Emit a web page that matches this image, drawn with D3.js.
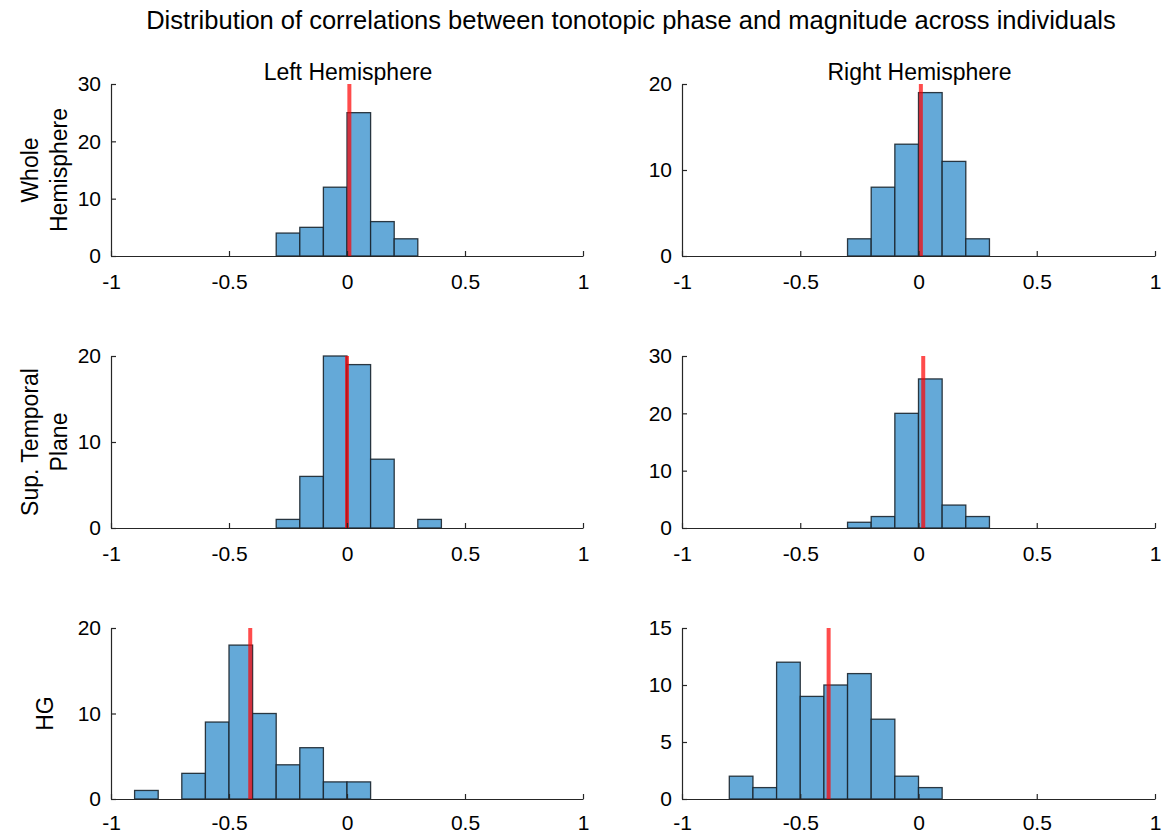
<!DOCTYPE html>
<html>
<head>
<meta charset="utf-8">
<script src="https://cdn.jsdelivr.net/npm/d3@7"></script>
<style>
  html, body { margin: 0; padding: 0; background: #fff; }
  svg text { font-family: "Liberation Sans", Arial, Helvetica, sans-serif; fill: #000; }
</style>
</head>
<body>
<svg id="chart" width="1167" height="835"></svg>
<script>
// Histogram bins: each bin spans [binStart, binStart + 0.1)
const binWidth = 0.1;

// Counts per bin, listed as [binStart, count]
const wholeLeft  = [[-0.3, 4], [-0.2, 5], [-0.1, 12], [0.0, 25], [0.1, 6], [0.2, 3]];
const wholeRight = [[-0.3, 2], [-0.2, 8], [-0.1, 13], [0.0, 19], [0.1, 11], [0.2, 2]];
const stpLeft    = [[-0.3, 1], [-0.2, 6], [-0.1, 20], [0.0, 19], [0.1, 8], [0.3, 1]];
const stpRight   = [[-0.3, 1], [-0.2, 2], [-0.1, 20], [0.0, 26], [0.1, 4], [0.2, 2]];
const hgLeft     = [[-0.9, 1], [-0.7, 3], [-0.6, 9], [-0.5, 18], [-0.4, 10], [-0.3, 4], [-0.2, 6], [-0.1, 2], [0.0, 2]];
const hgRight    = [[-0.8, 2], [-0.7, 1], [-0.6, 12], [-0.5, 9], [-0.4, 10], [-0.3, 11], [-0.2, 7], [-0.1, 2], [0.0, 1]];

// Median correlation per panel (red marker)
const medians = [0.01, 0.01, 0.0, 0.02, -0.41, -0.38];

// Y-axis upper limits and tick values per panel
const yMax   = [30, 20, 20, 30, 20, 15];
const yTicks = [[0, 10, 20, 30], [0, 10, 20], [0, 10, 20], [0, 10, 20, 30], [0, 10, 20], [0, 5, 10, 15]];

// Shared x ticks
const xTicks = [-1, -0.5, 0, 0.5, 1];

const columnTitles = ["Left Hemisphere", "Right Hemisphere"];
const rowLabels = [["Whole", "Hemisphere"], ["Sup. Temporal", "Plane"], ["HG"]];
const chartTitle = "Distribution of correlations between tonotopic phase and magnitude across individuals";

const panelData = [wholeLeft, wholeRight, stpLeft, stpRight, hgLeft, hgRight];

// Layout
const colX = [[111, 583], [682, 1155]];
const rowY = [[84, 256], [356, 528], [628, 799]];

const svg = d3.select("#chart");
const axisColor = "#262626";
const tickLen = 5;
const tickFont = 21;

svg.append("text")
  .attr("x", 631).attr("y", 29)
  .attr("text-anchor", "middle")
  .style("font-size", "25.5px")
  .text(chartTitle);

panelData.forEach((bins, i) => {
  const row = Math.floor(i / 2), col = i % 2;
  const [x0, x1] = colX[col];
  const [y0, y1] = rowY[row];

  const x = d3.scaleLinear().domain([-1, 1]).range([x0, x1]);
  const y = d3.scaleLinear().domain([0, yMax[i]]).range([y1, y0]);

  const g = svg.append("g");

  // Bars
  g.selectAll("rect.bar")
    .data(bins)
    .join("rect")
    .attr("class", "bar")
    .attr("x", d => x(d[0]))
    .attr("y", d => y(d[1]))
    .attr("width", d => x(d[0] + binWidth) - x(d[0]))
    .attr("height", d => y(0) - y(d[1]))
    .attr("fill", "#64a9d8")
    .attr("stroke", "#1a252d")
    .attr("stroke-opacity", 0.9)
    .attr("stroke-width", 1.3);

  // Median marker
  g.append("line")
    .attr("x1", x(medians[i])).attr("x2", x(medians[i]))
    .attr("y1", y(0)).attr("y2", y(yMax[i]))
    .attr("stroke", "#ff0000")
    .attr("stroke-opacity", 0.7)
    .attr("stroke-width", 4);

  // X axis (ticks pointing inward)
  const xAxis = d3.axisBottom(x)
    .tickValues(xTicks)
    .tickSizeInner(-tickLen)
    .tickSizeOuter(0)
    .tickPadding(row === 2 ? 16 : 18)
    .tickFormat(d => d3.format("")(d).replace("\u2212", "-"));
  const gx = g.append("g")
    .attr("transform", `translate(0,${y1})`)
    .call(xAxis);

  // Y axis (ticks pointing inward)
  const yAxis = d3.axisLeft(y)
    .tickValues(yTicks[i])
    .tickSizeInner(-tickLen)
    .tickSizeOuter(0)
    .tickPadding(10)
    .tickFormat(d3.format("d"));
  const gy = g.append("g")
    .attr("transform", `translate(${x0},0)`)
    .call(yAxis);

  [gx, gy].forEach(a => {
    a.select(".domain").attr("stroke", axisColor).attr("stroke-width", 1.2);
    a.selectAll(".tick line").attr("stroke", axisColor).attr("stroke-width", 1.2);
    a.selectAll(".tick text")
      .attr("fill", axisColor)
      .style("font-family", '"Liberation Sans", Arial, sans-serif')
      .style("font-size", tickFont + "px");
  });

  // Column titles
  if (row === 0) {
    svg.append("text")
      .attr("x", (x0 + x1) / 2 + 1).attr("y", 80)
      .attr("text-anchor", "middle")
      .style("font-size", "23px")
      .text(columnTitles[col]);
  }

  // Row labels
  if (col === 0) {
    const lines = rowLabels[row];
    const cy = (y0 + y1) / 2;
    const lineH = 29;
    const baseX = lines.length === 1 ? 53 : 38;
    const t = svg.append("text")
      .attr("transform", `translate(${baseX},${cy}) rotate(-90)`)
      .attr("text-anchor", "middle")
      .style("font-size", "23px");
    lines.forEach((s, k) => {
      t.append("tspan")
        .attr("x", 0)
        .attr("y", k * lineH)
        .text(s);
    });
  }
});
</script>
</body>
</html>
